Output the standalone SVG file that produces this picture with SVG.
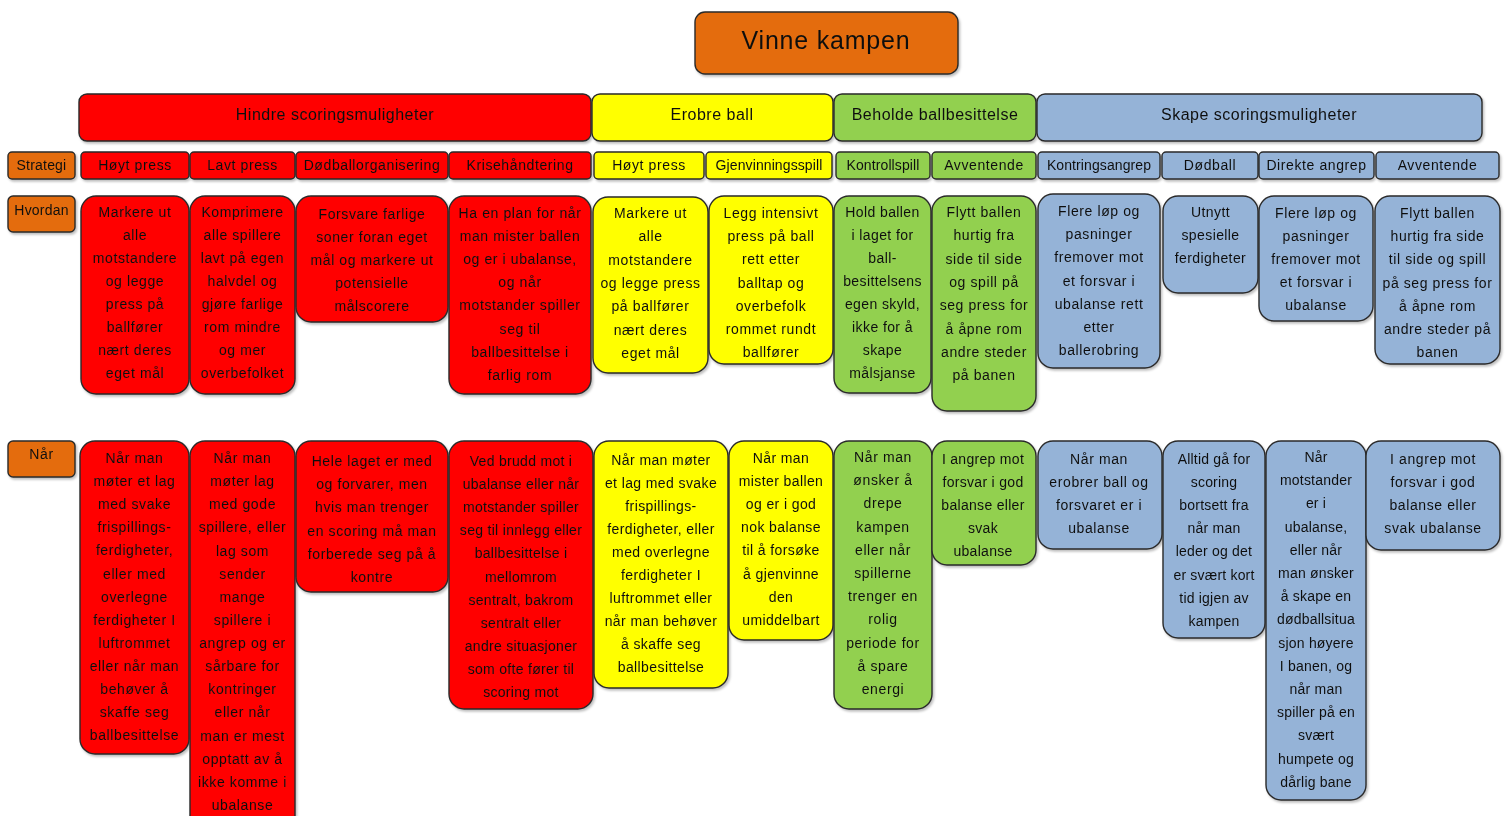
<svg xmlns="http://www.w3.org/2000/svg" width="1511" height="816" viewBox="0 0 1511 816">
<style>
text{font-family:"Liberation Sans",Arial,sans-serif;fill:#111;text-anchor:middle}
.b{stroke:#2a2a2a;stroke-width:1.4}
.r{fill:#ff0000}.y{fill:#ffff00}.g{fill:#92d050}.bl{fill:#95b3d7}.o{fill:#e46c0a}
.t{font-size:14px;letter-spacing:0.6px}
.h{font-size:16px;letter-spacing:0.5px}
.ti{font-size:25px;letter-spacing:0.8px}
</style>
<defs>
<filter id="sh" x="-10%" y="-10%" width="130%" height="130%">
<feDropShadow dx="1.5" dy="2" stdDeviation="1.2" flood-color="#000" flood-opacity="0.25"/>
</filter>
</defs>
<g id="connectors"></g>

<g id="title" filter="url(#sh)"><rect class="b o" x="695" y="12" width="263" height="62" rx="10"/><text class="ti" x="826" y="49">Vinne kampen</text></g>

<g id="cat-hindre" filter="url(#sh)"><rect class="b r" x="79" y="94" width="512" height="47" rx="8"/><text class="h" x="335" y="119.5">Hindre scoringsmuligheter</text></g>
<g id="cat-erobre" filter="url(#sh)"><rect class="b y" x="592" y="94" width="241" height="47" rx="8"/><text class="h" x="712" y="119.5">Erobre ball</text></g>
<g id="cat-beholde" filter="url(#sh)"><rect class="b g" x="834" y="94" width="202" height="47" rx="8"/><text class="h" x="935" y="119.5">Beholde ballbesittelse</text></g>
<g id="cat-skape" filter="url(#sh)"><rect class="b bl" x="1037" y="94" width="445" height="47" rx="8"/><text class="h" x="1259" y="119.5">Skape scoringsmuligheter</text></g>

<g id="lbl-strategi" filter="url(#sh)"><rect class="b o" x="8" y="152" width="67" height="27" rx="4"/><text class="t" x="41.5" y="170" style="letter-spacing:0.2px">Strategi</text></g>
<g id="s1" filter="url(#sh)"><rect class="b r" x="81" y="152" width="108" height="27" rx="4"/><text class="t" x="135" y="170">Høyt press</text></g>
<g id="s2" filter="url(#sh)"><rect class="b r" x="190" y="152" width="105" height="27" rx="4"/><text class="t" x="242.5" y="170">Lavt press</text></g>
<g id="s3" filter="url(#sh)"><rect class="b r" x="296" y="152" width="152" height="27" rx="4"/><text class="t" x="372" y="170">Dødballorganisering</text></g>
<g id="s4" filter="url(#sh)"><rect class="b r" x="449" y="152" width="142" height="27" rx="4"/><text class="t" x="520" y="170">Krisehåndtering</text></g>
<g id="s5" filter="url(#sh)"><rect class="b y" x="594" y="152" width="110" height="27" rx="4"/><text class="t" x="649" y="170">Høyt press</text></g>
<g id="s6" filter="url(#sh)"><rect class="b y" x="706" y="152" width="126" height="27" rx="4"/><text class="t" x="769" y="170" style="letter-spacing:0.1px">Gjenvinningsspill</text></g>
<g id="s7" filter="url(#sh)"><rect class="b g" x="836" y="152" width="94" height="27" rx="4"/><text class="t" x="883" y="170" style="letter-spacing:0.1px">Kontrollspill</text></g>
<g id="s8" filter="url(#sh)"><rect class="b g" x="932" y="152" width="104" height="27" rx="4"/><text class="t" x="984" y="170">Avventende</text></g>
<g id="s9" filter="url(#sh)"><rect class="b bl" x="1038" y="152" width="122" height="27" rx="4"/><text class="t" x="1099" y="170" style="letter-spacing:0.1px">Kontringsangrep</text></g>
<g id="s10" filter="url(#sh)"><rect class="b bl" x="1162" y="152" width="96" height="27" rx="4"/><text class="t" x="1210" y="170">Dødball</text></g>
<g id="s11" filter="url(#sh)"><rect class="b bl" x="1259" y="152" width="115" height="27" rx="4"/><text class="t" x="1316.5" y="170">Direkte angrep</text></g>
<g id="s12" filter="url(#sh)"><rect class="b bl" x="1376" y="152" width="123" height="27" rx="4"/><text class="t" x="1437.5" y="170">Avventende</text></g>

<g id="lbl-hvordan" filter="url(#sh)"><rect class="b o" x="8" y="196" width="67" height="36" rx="5"/><text class="t" x="41.5" y="215" style="letter-spacing:0.2px">Hvordan</text></g>

<g id="h1" filter="url(#sh)"><rect class="b r" x="81" y="196" width="108" height="198" rx="15"/>
<text class="t" y="217"><tspan x="135">Markere ut</tspan><tspan x="135" dy="23">alle</tspan><tspan x="135" dy="23">motstandere</tspan><tspan x="135" dy="23">og legge</tspan><tspan x="135" dy="23">press på</tspan><tspan x="135" dy="23">ballfører</tspan><tspan x="135" dy="23">nært deres</tspan><tspan x="135" dy="23">eget mål</tspan></text></g>
<g id="h2" filter="url(#sh)"><rect class="b r" x="190" y="196" width="105" height="198" rx="15"/>
<text class="t" y="217"><tspan x="242.5">Komprimere</tspan><tspan x="242.5" dy="23">alle spillere</tspan><tspan x="242.5" dy="23">lavt på egen</tspan><tspan x="242.5" dy="23">halvdel og</tspan><tspan x="242.5" dy="23">gjøre farlige</tspan><tspan x="242.5" dy="23">rom mindre</tspan><tspan x="242.5" dy="23">og mer</tspan><tspan x="242.5" dy="23">overbefolket</tspan></text></g>
<g id="h3" filter="url(#sh)"><rect class="b r" x="296" y="196" width="152" height="126" rx="15"/>
<text class="t" y="219"><tspan x="372">Forsvare farlige</tspan><tspan x="372" dy="23">soner foran eget</tspan><tspan x="372" dy="23">mål og markere ut</tspan><tspan x="372" dy="23">potensielle</tspan><tspan x="372" dy="23">målscorere</tspan></text></g>
<g id="h4" filter="url(#sh)"><rect class="b r" x="449" y="196" width="142" height="198" rx="15"/>
<text class="t" y="218"><tspan x="520">Ha en plan for når</tspan><tspan x="520" dy="23.1">man mister ballen</tspan><tspan x="520" dy="23.1">og er i ubalanse,</tspan><tspan x="520" dy="23.1">og når</tspan><tspan x="520" dy="23.1">motstander spiller</tspan><tspan x="520" dy="23.1">seg til</tspan><tspan x="520" dy="23.1">ballbesittelse i</tspan><tspan x="520" dy="23.1">farlig rom</tspan></text></g>
<g id="h5" filter="url(#sh)"><rect class="b y" x="593" y="197" width="115" height="176" rx="15"/>
<text class="t" y="218"><tspan x="650.5">Markere ut</tspan><tspan x="650.5" dy="23.3">alle</tspan><tspan x="650.5" dy="23.3">motstandere</tspan><tspan x="650.5" dy="23.3">og legge press</tspan><tspan x="650.5" dy="23.3">på ballfører</tspan><tspan x="650.5" dy="23.3">nært deres</tspan><tspan x="650.5" dy="23.3">eget mål</tspan></text></g>
<g id="h6" filter="url(#sh)"><rect class="b y" x="709" y="196" width="124" height="168" rx="15"/>
<text class="t" y="218"><tspan x="771">Legg intensivt</tspan><tspan x="771" dy="23.2">press på ball</tspan><tspan x="771" dy="23.2">rett etter</tspan><tspan x="771" dy="23.2">balltap og</tspan><tspan x="771" dy="23.2">overbefolk</tspan><tspan x="771" dy="23.2">rommet rundt</tspan><tspan x="771" dy="23.2">ballfører</tspan></text></g>
<g id="h7" filter="url(#sh)"><rect class="b g" x="834" y="196" width="97" height="197" rx="15"/>
<text class="t" y="217" style="letter-spacing:0.4px"><tspan x="882.5">Hold ballen</tspan><tspan x="882.5" dy="23">i laget for</tspan><tspan x="882.5" dy="23">ball-</tspan><tspan x="882.5" dy="23">besittelsens</tspan><tspan x="882.5" dy="23">egen skyld,</tspan><tspan x="882.5" dy="23">ikke for å</tspan><tspan x="882.5" dy="23">skape</tspan><tspan x="882.5" dy="23">målsjanse</tspan></text></g>
<g id="h8" filter="url(#sh)"><rect class="b g" x="932" y="196" width="104" height="215" rx="15"/>
<text class="t" y="217"><tspan x="984">Flytt ballen</tspan><tspan x="984" dy="23.3">hurtig fra</tspan><tspan x="984" dy="23.3">side til side</tspan><tspan x="984" dy="23.3">og spill på</tspan><tspan x="984" dy="23.3">seg press for</tspan><tspan x="984" dy="23.3">å åpne rom</tspan><tspan x="984" dy="23.3">andre steder</tspan><tspan x="984" dy="23.3">på banen</tspan></text></g>
<g id="h9" filter="url(#sh)"><rect class="b bl" x="1038" y="194" width="122" height="174" rx="15"/>
<text class="t" y="216"><tspan x="1099">Flere løp og</tspan><tspan x="1099" dy="23.2">pasninger</tspan><tspan x="1099" dy="23.2">fremover mot</tspan><tspan x="1099" dy="23.2">et forsvar i</tspan><tspan x="1099" dy="23.2">ubalanse rett</tspan><tspan x="1099" dy="23.2">etter</tspan><tspan x="1099" dy="23.2">ballerobring</tspan></text></g>
<g id="h10" filter="url(#sh)"><rect class="b bl" x="1163" y="196" width="95" height="97" rx="15"/>
<text class="t" y="217" style="letter-spacing:0.4px"><tspan x="1210.5">Utnytt</tspan><tspan x="1210.5" dy="23">spesielle</tspan><tspan x="1210.5" dy="23">ferdigheter</tspan></text></g>
<g id="h11" filter="url(#sh)"><rect class="b bl" x="1259" y="196" width="114" height="125" rx="15"/>
<text class="t" y="218"><tspan x="1316">Flere løp og</tspan><tspan x="1316" dy="23">pasninger</tspan><tspan x="1316" dy="23">fremover mot</tspan><tspan x="1316" dy="23">et forsvar i</tspan><tspan x="1316" dy="23">ubalanse</tspan></text></g>
<g id="h12" filter="url(#sh)"><rect class="b bl" x="1375" y="196" width="125" height="168" rx="15"/>
<text class="t" y="218"><tspan x="1437.5">Flytt ballen</tspan><tspan x="1437.5" dy="23.2">hurtig fra side</tspan><tspan x="1437.5" dy="23.2">til side og spill</tspan><tspan x="1437.5" dy="23.2">på seg press for</tspan><tspan x="1437.5" dy="23.2">å åpne rom</tspan><tspan x="1437.5" dy="23.2">andre steder på</tspan><tspan x="1437.5" dy="23.2">banen</tspan></text></g>

<g id="lbl-naar" filter="url(#sh)"><rect class="b o" x="8" y="441" width="67" height="36" rx="5"/><text class="t" x="41.5" y="459">Når</text></g>

<g id="n1" filter="url(#sh)"><rect class="b r" x="80" y="441" width="109" height="313" rx="15"/>
<text class="t" y="463"><tspan x="134.5">Når man</tspan><tspan x="134.5" dy="23.1">møter et lag</tspan><tspan x="134.5" dy="23.1">med svake</tspan><tspan x="134.5" dy="23.1">frispillings-</tspan><tspan x="134.5" dy="23.1">ferdigheter,</tspan><tspan x="134.5" dy="23.1">eller med</tspan><tspan x="134.5" dy="23.1">overlegne</tspan><tspan x="134.5" dy="23.1">ferdigheter I</tspan><tspan x="134.5" dy="23.1">luftrommet</tspan><tspan x="134.5" dy="23.1">eller når man</tspan><tspan x="134.5" dy="23.1">behøver å</tspan><tspan x="134.5" dy="23.1">skaffe seg</tspan><tspan x="134.5" dy="23.1">ballbesittelse</tspan></text></g>
<g id="n2" filter="url(#sh)"><rect class="b r" x="190" y="441" width="105" height="395" rx="15"/>
<text class="t" y="463"><tspan x="242.5">Når man</tspan><tspan x="242.5" dy="23.13">møter lag</tspan><tspan x="242.5" dy="23.13">med gode</tspan><tspan x="242.5" dy="23.13">spillere, eller</tspan><tspan x="242.5" dy="23.13">lag som</tspan><tspan x="242.5" dy="23.13">sender</tspan><tspan x="242.5" dy="23.13">mange</tspan><tspan x="242.5" dy="23.13">spillere i</tspan><tspan x="242.5" dy="23.13">angrep og er</tspan><tspan x="242.5" dy="23.13">sårbare for</tspan><tspan x="242.5" dy="23.13">kontringer</tspan><tspan x="242.5" dy="23.13">eller når</tspan><tspan x="242.5" dy="23.13">man er mest</tspan><tspan x="242.5" dy="23.13">opptatt av å</tspan><tspan x="242.5" dy="23.13">ikke komme i</tspan><tspan x="242.5" dy="23.13">ubalanse</tspan></text></g>
<g id="n3" filter="url(#sh)"><rect class="b r" x="296" y="441" width="152" height="151" rx="15"/>
<text class="t" y="466"><tspan x="372">Hele laget er med</tspan><tspan x="372" dy="23.2">og forvarer, men</tspan><tspan x="372" dy="23.2">hvis man trenger</tspan><tspan x="372" dy="23.2">en scoring må man</tspan><tspan x="372" dy="23.2">forberede seg på å</tspan><tspan x="372" dy="23.2">kontre</tspan></text></g>
<g id="n4" filter="url(#sh)"><rect class="b r" x="449" y="441" width="144" height="268" rx="15"/>
<text class="t" y="466" style="letter-spacing:0.3px"><tspan x="521">Ved brudd mot i</tspan><tspan x="521" dy="23.1">ubalanse eller når</tspan><tspan x="521" dy="23.1">motstander spiller</tspan><tspan x="521" dy="23.1">seg til innlegg eller</tspan><tspan x="521" dy="23.1">ballbesittelse i</tspan><tspan x="521" dy="23.1">mellomrom</tspan><tspan x="521" dy="23.1">sentralt, bakrom</tspan><tspan x="521" dy="23.1">sentralt eller</tspan><tspan x="521" dy="23.1">andre situasjoner</tspan><tspan x="521" dy="23.1">som ofte fører til</tspan><tspan x="521" dy="23.1">scoring mot</tspan></text></g>
<g id="n5" filter="url(#sh)"><rect class="b y" x="594" y="441" width="134" height="247" rx="15"/>
<text class="t" y="465" style="letter-spacing:0.4px"><tspan x="661">Når man møter</tspan><tspan x="661" dy="23">et lag med svake</tspan><tspan x="661" dy="23">frispillings-</tspan><tspan x="661" dy="23">ferdigheter, eller</tspan><tspan x="661" dy="23">med overlegne</tspan><tspan x="661" dy="23">ferdigheter I</tspan><tspan x="661" dy="23">luftrommet eller</tspan><tspan x="661" dy="23">når man behøver</tspan><tspan x="661" dy="23">å skaffe seg</tspan><tspan x="661" dy="23">ballbesittelse</tspan></text></g>
<g id="n6" filter="url(#sh)"><rect class="b y" x="729" y="441" width="104" height="199" rx="15"/>
<text class="t" y="463" style="letter-spacing:0.4px"><tspan x="781">Når man</tspan><tspan x="781" dy="23.1">mister ballen</tspan><tspan x="781" dy="23.1">og er i god</tspan><tspan x="781" dy="23.1">nok balanse</tspan><tspan x="781" dy="23.1">til å forsøke</tspan><tspan x="781" dy="23.1">å gjenvinne</tspan><tspan x="781" dy="23.1">den</tspan><tspan x="781" dy="23.1">umiddelbart</tspan></text></g>
<g id="n7" filter="url(#sh)"><rect class="b g" x="834" y="441" width="98" height="268" rx="15"/>
<text class="t" y="462"><tspan x="883">Når man</tspan><tspan x="883" dy="23.2">ønsker å</tspan><tspan x="883" dy="23.2">drepe</tspan><tspan x="883" dy="23.2">kampen</tspan><tspan x="883" dy="23.2">eller når</tspan><tspan x="883" dy="23.2">spillerne</tspan><tspan x="883" dy="23.2">trenger en</tspan><tspan x="883" dy="23.2">rolig</tspan><tspan x="883" dy="23.2">periode for</tspan><tspan x="883" dy="23.2">å spare</tspan><tspan x="883" dy="23.2">energi</tspan></text></g>
<g id="n8" filter="url(#sh)"><rect class="b g" x="932" y="441" width="104" height="124" rx="15"/>
<text class="t" y="464" style="letter-spacing:0.3px"><tspan x="983">I angrep mot</tspan><tspan x="983" dy="23">forsvar i god</tspan><tspan x="983" dy="23">balanse eller</tspan><tspan x="983" dy="23">svak</tspan><tspan x="983" dy="23">ubalanse</tspan></text></g>
<g id="n9" filter="url(#sh)"><rect class="b bl" x="1038" y="441" width="124" height="108" rx="15"/>
<text class="t" y="464"><tspan x="1099">Når man</tspan><tspan x="1099" dy="23">erobrer ball og</tspan><tspan x="1099" dy="23">forsvaret er i</tspan><tspan x="1099" dy="23">ubalanse</tspan></text></g>
<g id="n10" filter="url(#sh)"><rect class="b bl" x="1163" y="441" width="102" height="197" rx="15"/>
<text class="t" y="464" style="letter-spacing:0.2px"><tspan x="1214">Alltid gå for</tspan><tspan x="1214" dy="23.1">scoring</tspan><tspan x="1214" dy="23.1">bortsett fra</tspan><tspan x="1214" dy="23.1">når man</tspan><tspan x="1214" dy="23.1">leder og det</tspan><tspan x="1214" dy="23.1">er svært kort</tspan><tspan x="1214" dy="23.1">tid igjen av</tspan><tspan x="1214" dy="23.1">kampen</tspan></text></g>
<g id="n11" filter="url(#sh)"><rect class="b bl" x="1266" y="441" width="100" height="359" rx="15"/>
<text class="t" y="462" style="letter-spacing:0.2px"><tspan x="1316">Når</tspan><tspan x="1316" dy="23.2">motstander</tspan><tspan x="1316" dy="23.2">er i</tspan><tspan x="1316" dy="23.2">ubalanse,</tspan><tspan x="1316" dy="23.2">eller når</tspan><tspan x="1316" dy="23.2">man ønsker</tspan><tspan x="1316" dy="23.2">å skape en</tspan><tspan x="1316" dy="23.2">dødballsitua</tspan><tspan x="1316" dy="23.2">sjon høyere</tspan><tspan x="1316" dy="23.2">I banen, og</tspan><tspan x="1316" dy="23.2">når man</tspan><tspan x="1316" dy="23.2">spiller på en</tspan><tspan x="1316" dy="23.2">svært</tspan><tspan x="1316" dy="23.2">humpete og</tspan><tspan x="1316" dy="23.2">dårlig bane</tspan></text></g>
<g id="n12" filter="url(#sh)"><rect class="b bl" x="1366" y="441" width="134" height="109" rx="15"/>
<text class="t" y="464"><tspan x="1433">I angrep mot</tspan><tspan x="1433" dy="23">forsvar i god</tspan><tspan x="1433" dy="23">balanse eller</tspan><tspan x="1433" dy="23">svak ubalanse</tspan></text></g>
</svg>
